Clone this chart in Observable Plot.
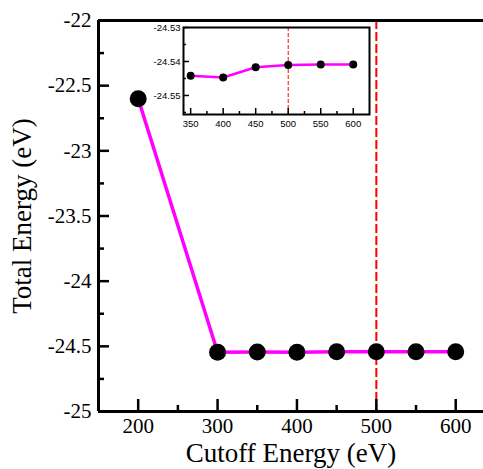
<!DOCTYPE html>
<html>
<head>
<meta charset="utf-8">
<script src="https://cdn.jsdelivr.net/npm/d3@7"></script>
<script src="https://cdn.jsdelivr.net/npm/@observablehq/plot@0.6"></script>
<style>
  html, body { margin: 0; padding: 0; background: #fff; }
  #wrap { position: relative; width: 483px; height: 469px; overflow: hidden; }
  #inset { position: absolute; left: 143px; top: 20px; }
</style>
</head>
<body>
<div id="wrap"><div id="main"></div><div id="inset"></div></div>
<script>
// Main series
const cutoff = [200, 300, 350, 400, 450, 500, 550, 600];
const energy = [-22.6, -24.5455, -24.5442, -24.5447, -24.5417, -24.541, -24.5409, -24.5409];
// Inset series
const insetCutoff = [350, 400, 450, 500, 550, 600];
const insetEnergy = [-24.5442, -24.5447, -24.5417, -24.541, -24.5409, -24.5409];
// Ticks
const xMajor = [200, 300, 400, 500, 600];
const xMinor = [250, 350, 450, 550];
const yMajor = [-25, -24.5, -24, -23.5, -23, -22.5, -22];
const yMinor = [-24.75, -24.25, -23.75, -23.25, -22.75, -22.25];
const insetXMajor = [350, 400, 450, 500, 550, 600];
const insetXMinor = [375, 425, 475, 525, 575];
const insetYMajor = [-24.55, -24.54, -24.53];
const insetYMinor = [-24.555, -24.545, -24.535];
const refLine = [500];
const xDomain = [150, 635];
const yDomain = [-25, -22];
const insetXDomain = [339, 625];
const insetYDomain = [-24.5556, -24.53];
const xLabel = "Cutoff Energy (eV)";
const yLabel = "Total Energy (eV)";

const rows = cutoff.map((c, i) => ({c, e: energy[i]}));
const insetRows = insetCutoff.map((c, i) => ({c, e: insetEnergy[i]}));

const W = 483, H = 469, mL = 98, mT = 20, mB = 58, mR = 0;
const fw = W - mL - mR, fh = H - mT - mB;
const fmt = d => `${d}`;

const main = Plot.plot({
  width: W, height: H,
  marginLeft: mL, marginTop: mT, marginBottom: mB, marginRight: mR,
  style: {fontFamily: "Liberation Serif", background: "transparent", overflow: "visible"},
  x: {domain: xDomain},
  y: {domain: yDomain},
  marks: [
    Plot.ruleX(refLine, {stroke: "#ff0000", strokeWidth: 2, strokeDasharray: "9,3"}),
    Plot.line(rows, {x: "c", y: "e", stroke: "#ff00ff", strokeWidth: 3.5}),
    Plot.dot(rows, {x: "c", y: "e", r: 8.5, fill: "black"}),
    // inward ticks
    Plot.tickY(yMajor, {y: d => d, stroke: "black", strokeWidth: 2.5, insetRight: fw - 11}),
    Plot.tickY(yMinor, {y: d => d, stroke: "black", strokeWidth: 2.5, insetRight: fw - 6}),
    Plot.tickX(xMajor, {x: d => d, stroke: "black", strokeWidth: 2.5, insetTop: fh - 12}),
    Plot.tickX(xMinor, {x: d => d, stroke: "black", strokeWidth: 2.5, insetTop: fh - 6}),
    // frame (left, bottom, top)
    Plot.ruleX([xDomain[0]], {stroke: "black", strokeWidth: 3}),
    Plot.ruleY([yDomain[0], yDomain[1]], {stroke: "black", strokeWidth: 3}),
    Plot.axisY(yMajor, {tickSize: 0, tickPadding: 7, tickFormat: fmt, fontSize: 21, label: null}),
    Plot.axisX(xMajor, {tickSize: 0, tickPadding: 7, tickFormat: fmt, fontSize: 21, label: null}),
    Plot.text([xLabel], {text: d => d, frameAnchor: "bottom", lineAnchor: "middle", textAnchor: "middle", dy: 42, fontSize: 27, fill: "black"}),
    Plot.text([yLabel], {text: d => d, frameAnchor: "left", lineAnchor: "middle", textAnchor: "middle", dx: -76, rotate: -90, fontSize: 27, fill: "black"})
  ]
});
document.getElementById("main").appendChild(main);

const iW = 232, iH = 114, iL = 40, iT = 7, iB = 20, iR = 6;
const ifw = iW - iL - iR, ifh = iH - iT - iB;
const inset = Plot.plot({
  width: iW, height: iH,
  marginLeft: iL, marginTop: iT, marginBottom: iB, marginRight: iR,
  style: {fontFamily: "Liberation Sans", background: "transparent", overflow: "visible"},
  x: {domain: insetXDomain},
  y: {domain: insetYDomain},
  marks: [
    Plot.frame({fill: "white", stroke: null}),
    Plot.ruleX(refLine, {stroke: "#ff0000", strokeWidth: 1, strokeDasharray: "4,2"}),
    Plot.line(insetRows, {x: "c", y: "e", stroke: "#ff00ff", strokeWidth: 2.5}),
    Plot.dot(insetRows, {x: "c", y: "e", r: 4, fill: "black"}),
    Plot.tickY(insetYMajor, {y: d => d, stroke: "black", strokeWidth: 1.5, insetRight: ifw - 6}),
    Plot.tickY(insetYMinor, {y: d => d, stroke: "black", strokeWidth: 1.5, insetRight: ifw - 3}),
    Plot.tickX(insetXMajor, {x: d => d, stroke: "black", strokeWidth: 1.5, insetTop: ifh - 6}),
    Plot.tickX(insetXMinor, {x: d => d, stroke: "black", strokeWidth: 1.5, insetTop: ifh - 3}),
    Plot.frame({stroke: "black", strokeWidth: 2}),
    Plot.axisY(insetYMajor, {tickSize: 0, tickPadding: 3, tickFormat: fmt, fontSize: 9.5, label: null}),
    Plot.axisX(insetXMajor, {tickSize: 0, tickPadding: 6, tickFormat: fmt, fontSize: 9.5, label: null})
  ]
});
document.getElementById("inset").appendChild(inset);
</script>
</body>
</html>
